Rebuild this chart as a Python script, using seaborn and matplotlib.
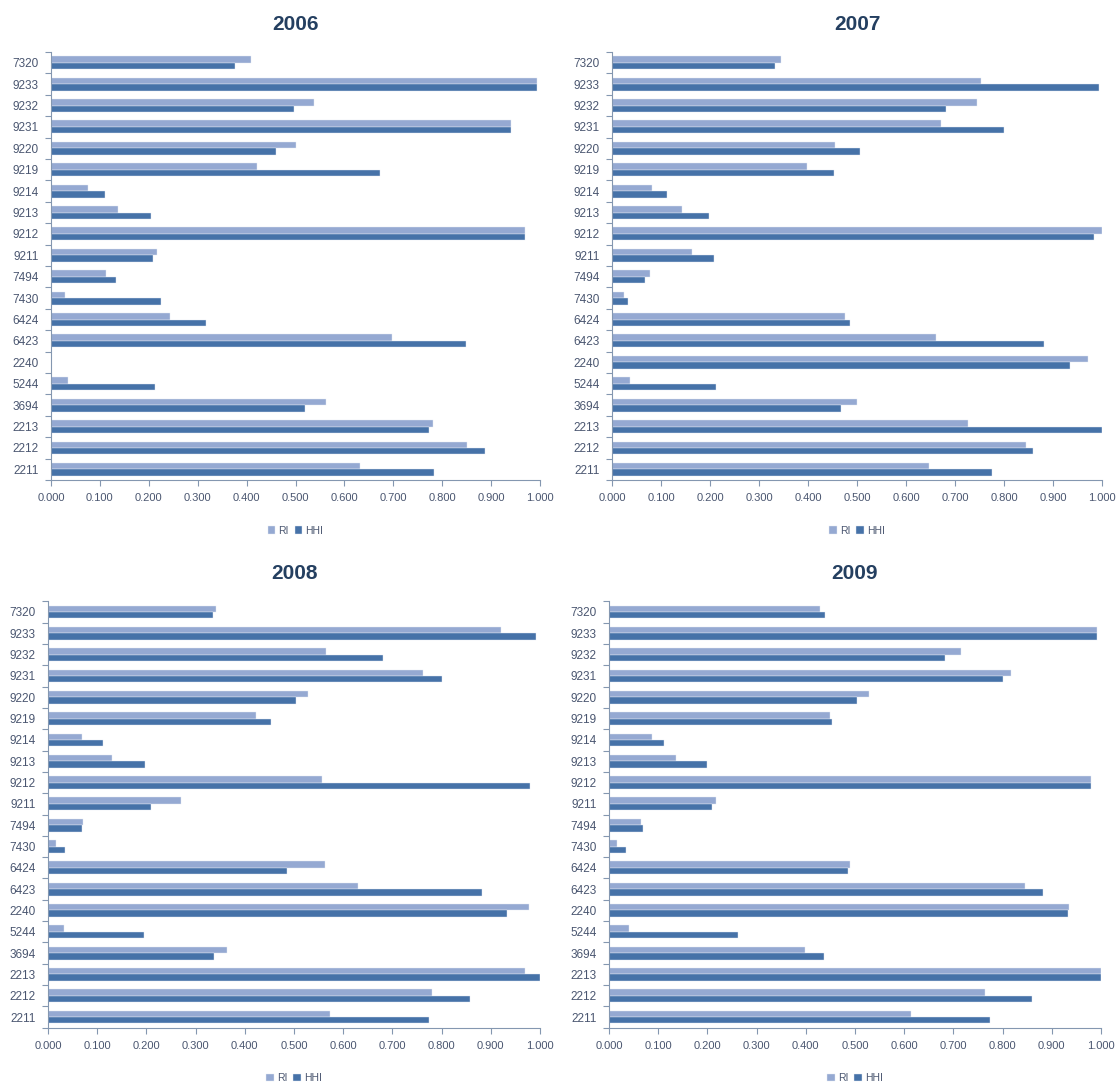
"""
RI vs HHI per kode industri, 2006-2009 (4 panel horizontal bar).
"""

import matplotlib.pyplot as plt
import numpy as np
import pandas as pd
import seaborn as sns
from matplotlib.ticker import FormatStrFormatter

# Kode industri, urutan dari atas ke bawah
CODES = ['7320', '9233', '9232', '9231', '9220', '9219', '9214', '9213', '9212', '9211',
         '7494', '7430', '6424', '6423', '2240', '5244', '3694', '2213', '2212', '2211']

RI_2006 = [0.409, 0.993, 0.538, 0.940, 0.500, 0.422, 0.075, 0.137, 0.970, 0.216,
           0.112, 0.028, 0.244, 0.697, 0.000, 0.034, 0.562, 0.782, 0.851, 0.632]
HHI_2006 = [0.376, 0.993, 0.497, 0.940, 0.461, 0.673, 0.111, 0.205, 0.969, 0.208,
            0.133, 0.224, 0.317, 0.849, 0.000, 0.213, 0.520, 0.773, 0.887, 0.784]

RI_2007 = [0.345, 0.753, 0.744, 0.672, 0.456, 0.398, 0.082, 0.142, 1.000, 0.164,
           0.078, 0.025, 0.475, 0.661, 0.972, 0.036, 0.501, 0.727, 0.845, 0.647]
HHI_2007 = [0.333, 0.993, 0.682, 0.801, 0.506, 0.453, 0.112, 0.197, 0.983, 0.208,
            0.068, 0.033, 0.485, 0.882, 0.934, 0.213, 0.467, 1.000, 0.859, 0.775]

RI_2008 = [0.341, 0.920, 0.566, 0.763, 0.529, 0.423, 0.069, 0.131, 0.556, 0.270,
           0.072, 0.017, 0.563, 0.630, 0.977, 0.032, 0.364, 0.969, 0.780, 0.574]
HHI_2008 = [0.335, 0.991, 0.680, 0.800, 0.505, 0.453, 0.111, 0.198, 0.980, 0.210,
            0.069, 0.035, 0.485, 0.882, 0.932, 0.195, 0.337, 1.000, 0.858, 0.774]

RI_2009 = [0.428, 0.991, 0.715, 0.817, 0.528, 0.450, 0.088, 0.136, 0.979, 0.217,
           0.065, 0.017, 0.489, 0.846, 0.935, 0.041, 0.398, 1.000, 0.764, 0.613]
HHI_2009 = [0.439, 0.991, 0.682, 0.801, 0.505, 0.454, 0.112, 0.199, 0.980, 0.210,
            0.070, 0.035, 0.486, 0.883, 0.933, 0.262, 0.437, 1.000, 0.859, 0.774]

YEARS = ['2006', '2007', '2008', '2009']
SERIES = {
    '2006': (RI_2006, HHI_2006),
    '2007': (RI_2007, HHI_2007),
    '2008': (RI_2008, HHI_2008),
    '2009': (RI_2009, HHI_2009),
}

PALETTE = {'RI': '#95A9D2', 'HHI': '#4672A8'}
AXIS_COLOR = '#8497B0'
TEXT_COLOR = '#4A5670'
TITLE_COLOR = '#243F60'

# posisi axes (left, bottom, width, height) dalam fraksi figure
AX_POS = {
    '2006': [0.0456, 0.5588, 0.4370, 0.3934],
    '2007': [0.5469, 0.5588, 0.4379, 0.3934],
    '2008': [0.0429, 0.0554, 0.4397, 0.3919],
    '2009': [0.5442, 0.0554, 0.4397, 0.3919],
}


def build_frame(year):
    ri, hhi = SERIES[year]
    return pd.concat([
        pd.DataFrame({'code': CODES, 'value': ri, 'index': 'RI'}),
        pd.DataFrame({'code': CODES, 'value': hhi, 'index': 'HHI'}),
    ], ignore_index=True)


def main():
    sns.set_style('white')
    plt.rcParams['font.family'] = ['Liberation Sans', 'DejaVu Sans']

    fig = plt.figure(figsize=(11.19, 10.88), dpi=100)

    for year in YEARS:
        ax = fig.add_axes(AX_POS[year])
        df = build_frame(year)
        sns.barplot(
            data=df, y='code', x='value', hue='index',
            order=CODES, hue_order=['RI', 'HHI'], palette=PALETTE,
            orient='h', width=0.6, errorbar=None, saturation=1, ax=ax,
            edgecolor='#E4E9F2', linewidth=0.3,
        )

        ax.set_xlim(0, 1)
        ax.set_xticks(np.arange(0, 1.01, 0.1))
        ax.xaxis.set_major_formatter(FormatStrFormatter('%.3f'))
        ax.set_yticks(np.arange(-0.5, len(CODES), 1), minor=True)
        ax.set_xlabel('')
        ax.set_ylabel('')

        ax.tick_params(axis='x', which='major', length=4, width=0.8, pad=5.5,
                       color=AXIS_COLOR, labelcolor=TEXT_COLOR, labelsize=8,
                       bottom=True, direction='out')
        ax.tick_params(axis='y', which='major', length=0, pad=9,
                       labelcolor=TEXT_COLOR, labelsize=8.5)
        ax.tick_params(axis='y', which='minor', length=4, width=0.8,
                       color=AXIS_COLOR, left=True, direction='out')

        for side in ['top', 'right']:
            ax.spines[side].set_visible(False)
        for side in ['left', 'bottom']:
            ax.spines[side].set_color(AXIS_COLOR)
            ax.spines[side].set_linewidth(0.8)

        ax.set_title(year, fontsize=15, fontweight='bold', color=TITLE_COLOR, pad=16)

        handles, labels = ax.get_legend_handles_labels()
        ax.legend(
            handles, labels, loc='center', bbox_to_anchor=(0.5, -0.118),
            ncol=2, frameon=False, fontsize=7.5, labelcolor=TEXT_COLOR,
            handlelength=0.7, handleheight=0.7, handletextpad=0.3,
            columnspacing=0.6,
        )

    plt.savefig('out.png', dpi=100)
    plt.close()


if __name__ == "__main__":
    main()
